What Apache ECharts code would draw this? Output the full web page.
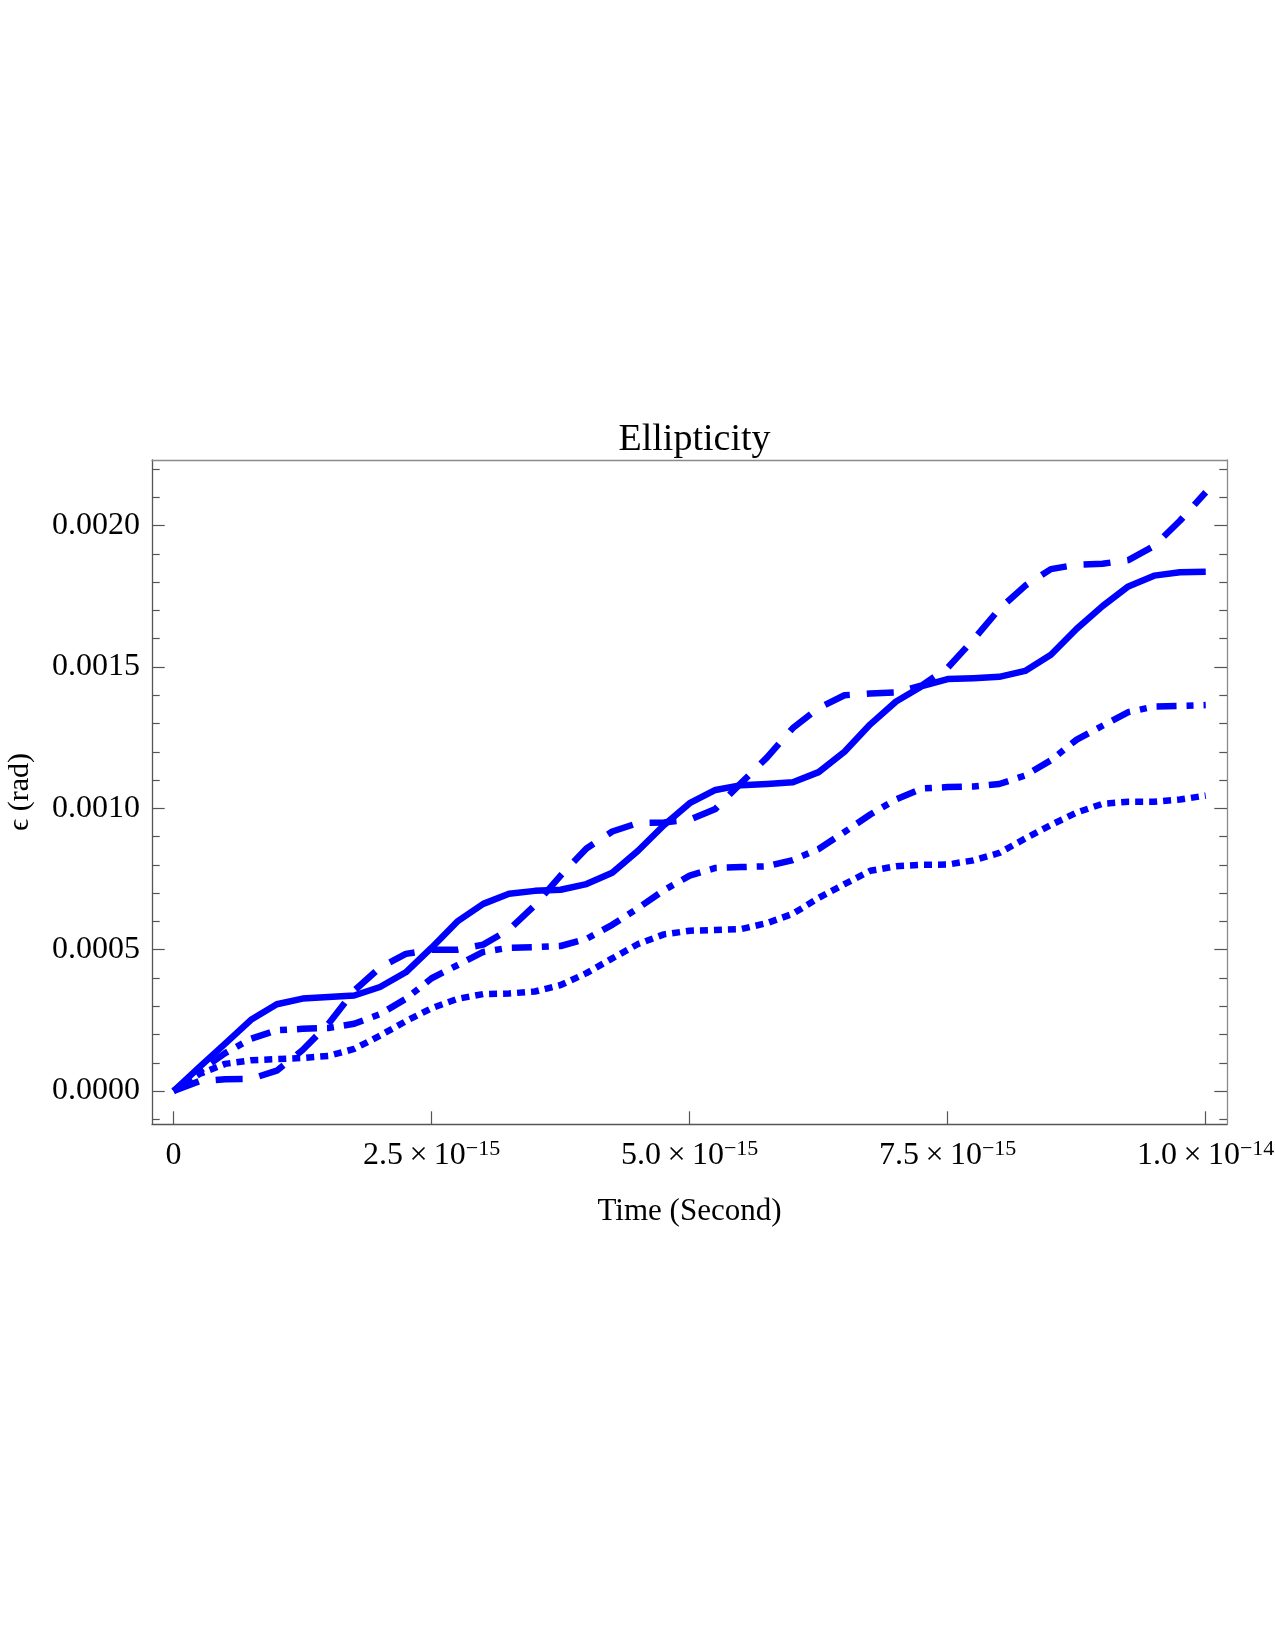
<!DOCTYPE html>
<html>
<head>
<meta charset="utf-8">
<script src="https://cdn.jsdelivr.net/npm/echarts@6/dist/echarts.min.js"></script>
<style>
  html, body { margin: 0; padding: 0; background: #fff; }
  #main { width: 1275px; height: 1650px; }
</style>
</head>
<body>
<div id="main"></div>
<script>
// time in units of 1e-15 s
const timeFs = [0, 0.25, 0.5, 0.75, 1, 1.25, 1.5, 1.75, 2, 2.25, 2.5, 2.75, 3, 3.25, 3.5, 3.75,
  4, 4.25, 4.5, 4.75, 5, 5.25, 5.5, 5.75, 6, 6.25, 6.5, 6.75, 7, 7.25, 7.5, 7.75,
  8, 8.25, 8.5, 8.75, 9, 9.25, 9.5, 9.75, 10];

const solidEps = [0, 0.000085, 0.000168, 0.000252, 0.000307, 0.000327, 0.000333, 0.000338,
  0.000368, 0.00042, 0.000507, 0.0006, 0.000662, 0.000698, 0.000708, 0.000712,
  0.000732, 0.000772, 0.00085, 0.00094, 0.001018, 0.001065, 0.001082, 0.001086,
  0.001092, 0.001128, 0.0012, 0.001297, 0.001378, 0.001432, 0.001457, 0.00146,
  0.001465, 0.001486, 0.001543, 0.001635, 0.001715, 0.001785, 0.001823, 0.001835, 0.001837];

const dashedEps = [0, 0.000035, 0.000042, 0.000043, 0.000072, 0.000145, 0.000237, 0.000355,
  0.000437, 0.000485, 0.0005, 0.0005, 0.000518, 0.000571, 0.000657, 0.000762,
  0.000858, 0.000918, 0.000948, 0.00095, 0.00096, 0.000998, 0.00109, 0.00118,
  0.001284, 0.001355, 0.0014, 0.001406, 0.00141, 0.001435, 0.001497, 0.001597,
  0.001705, 0.001787, 0.001846, 0.001862, 0.001865, 0.001878, 0.001928, 0.002017, 0.002118];

const dotDashEps = [0, 0.00007, 0.000134, 0.000185, 0.000215, 0.00022, 0.000223, 0.000238,
  0.000272, 0.000326, 0.000399, 0.000445, 0.000492, 0.000507, 0.000509, 0.000513,
  0.000538, 0.000588, 0.000647, 0.00071, 0.000762, 0.000789, 0.000792, 0.000795,
  0.000817, 0.000856, 0.000916, 0.000978, 0.001032, 0.00107, 0.001075, 0.001077,
  0.001086, 0.001116, 0.00117, 0.001243, 0.001292, 0.00134, 0.00136, 0.001362, 0.001365];

const dottedEps = [0, 0.00006, 0.000096, 0.000109, 0.000113, 0.000117, 0.000124, 0.000149,
  0.000196, 0.000247, 0.000293, 0.000326, 0.000343, 0.000345, 0.000352, 0.000375,
  0.000417, 0.000469, 0.00052, 0.000554, 0.000567, 0.00057, 0.000573, 0.000594,
  0.000627, 0.000683, 0.000732, 0.000779, 0.000795, 0.0008, 0.000801, 0.000816,
  0.000842, 0.000893, 0.000941, 0.000985, 0.001016, 0.001023, 0.001023, 0.001031, 0.001045];

const xTicks = [0, 2.5, 5, 7.5, 10];
const xTickMant = ['0', '2.5', '5.0', '7.5', '1.0'];
const xTickExp = ['', '\u221215', '\u221215', '\u221215', '\u221214'];
const yMajor = [0, 0.0005, 0.001, 0.0015, 0.002];
const yMinor = [-0.0001, 0.0001, 0.0002, 0.0003, 0.0004, 0.0006, 0.0007, 0.0008, 0.0009,
  0.0011, 0.0012, 0.0013, 0.0014, 0.0016, 0.0017, 0.0018, 0.0019, 0.0021, 0.0022];

const FONT = "'Liberation Serif', 'Times New Roman', 'DejaVu Serif', serif";
const BLUE = '#0000ff';
const FRAME = '#555';
const FRAME_LIGHT = '#8a8a8a';
const X_MIN = -0.209, X_MAX = 10.206;
const Y_MIN = -0.0001166, Y_MAX = 0.002232;

const pairs = ys => timeFs.map((t, i) => [t, ys[i]]);

const chart = echarts.init(document.getElementById('main'));

const frameAxis = (color) => ({
    show: true,
    onZero: false,
    lineStyle: { color: color, width: 1.3 }
});

const tickAxis = (pos, values, len, showLine, lineColor) => ({
    type: 'value',
    position: pos,
    min: Y_MIN,
    max: Y_MAX,
    axisLine: showLine ? frameAxis(lineColor) : { show: false, onZero: false },
    axisTick: {
        show: true, inside: true, length: len,
        customValues: values,
        lineStyle: { color: FRAME, width: 1.2 }
    },
    axisLabel: { show: false },
    splitLine: { show: false }
});

const lineSeries = (name, ys, type) => ({
    name: name, type: 'line', data: pairs(ys), showSymbol: false,
    lineStyle: { color: BLUE, width: 6.5, type: type, cap: 'butt', join: 'round' }
});

const option = {
    animation: false,
    backgroundColor: '#fff',
    title: {
        text: 'Ellipticity',
        left: 689.5,
        top: 416,
        textAlign: 'center',
        textStyle: { fontFamily: FONT, fontSize: 38, fontWeight: 'normal', color: '#000' }
    },
    grid: { left: 152, top: 460, width: 1075, height: 664, outerBoundsMode: 'none', containLabel: false },
    xAxis: [
        {
            type: 'value',
            position: 'bottom',
            min: X_MIN,
            max: X_MAX,
            axisLine: frameAxis(FRAME),
            axisTick: {
                show: true, inside: true, length: 12.7,
                customValues: xTicks,
                lineStyle: { color: FRAME, width: 1.2 }
            },
            axisLabel: {
                customValues: xTicks,
                margin: 14,
                formatter: function (v) {
                    const i = xTicks.indexOf(v);
                    if (i <= 0) return '{m|' + xTickMant[0] + '}';
                    return '{m|' + xTickMant[i] + '\u2009\u00d7\u200910}{s|' + xTickExp[i] + '}';
                },
                rich: {
                    m: { fontFamily: FONT, fontSize: 32, color: '#000', lineHeight: 35 },
                    s: { fontFamily: FONT, fontSize: 22, color: '#000', lineHeight: 17, verticalAlign: 'top' }
                },
                fontFamily: FONT, fontSize: 32, color: '#000'
            },
            splitLine: { show: false },
            name: 'Time (Second)',
            nameLocation: 'middle',
            nameGap: 72,
            nameTextStyle: { fontFamily: FONT, fontSize: 31, color: '#000' }
        },
        {
            type: 'value',
            position: 'top',
            min: X_MIN,
            max: X_MAX,
            axisLine: frameAxis(FRAME_LIGHT),
            axisTick: { show: false },
            axisLabel: { show: false },
            splitLine: { show: false }
        }
    ],
    yAxis: [
        {
            type: 'value',
            position: 'left',
            min: Y_MIN,
            max: Y_MAX,
            axisLine: frameAxis(FRAME),
            axisTick: {
                show: true, inside: true, length: 12.7,
                customValues: yMajor,
                lineStyle: { color: FRAME, width: 1.2 }
            },
            axisLabel: {
                customValues: yMajor,
                margin: 12,
                formatter: v => v.toFixed(4),
                fontFamily: FONT, fontSize: 32, color: '#000'
            },
            splitLine: { show: false },
            name: '\u03f5 (rad)',
            nameLocation: 'middle',
            nameGap: 117,
            nameRotate: 90,
            nameTextStyle: { fontFamily: FONT, fontSize: 30, color: '#000' }
        },
        tickAxis('left', yMinor, 7.7, false),
        tickAxis('right', yMajor, 12.7, true, FRAME_LIGHT),
        tickAxis('right', yMinor, 7.7, false)
    ],
    series: [
        lineSeries('solid', solidEps, 'solid'),
        lineSeries('dashed', dashedEps, [27, 17]),
        lineSeries('dotdash', dotDashEps, [20, 10, 7, 10]),
        lineSeries('dotted', dottedEps, [8, 6])
    ]
};

chart.setOption(option);
</script>
</body>
</html>
